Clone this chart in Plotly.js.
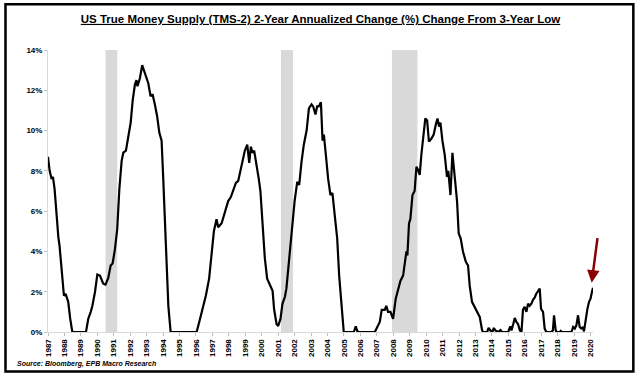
<!DOCTYPE html>
<html>
<head>
<meta charset="utf-8">
<script src="https://cdn.plot.ly/plotly-3.0.1.min.js"></script>
<style>html,body{margin:0;padding:0;background:#fff;}#chart{width:640px;height:377px;}</style>
</head>
<body>
<div id="chart"></div>
<script>
// Decimal-year positions of the series
const dates = [
1987.00,1987.10,1987.22,1987.30,1987.40,1987.53,1987.63,1987.70,1987.83,1987.97,
1988.07,1988.23,1988.35,1988.48,1988.90,1989.31,1989.45,1989.52,1989.60,1989.70,
1989.86,1990.00,1990.16,1990.36,1990.50,1990.67,1990.81,1990.93,1991.07,1991.21,
1991.34,1991.48,1991.58,1991.74,1991.88,1992.03,1992.15,1992.29,1992.38,1992.44,
1992.59,1992.73,1992.83,1992.96,1993.10,1993.24,1993.36,1993.50,1993.64,1993.77,
1993.91,1994.01,1994.10,1994.22,1994.32,1994.46,1995.20,1996.04,1996.20,1996.35,
1996.48,1996.60,1996.80,1996.94,1997.09,1997.25,1997.35,1997.56,1997.76,1997.96,
1998.12,1998.27,1998.43,1998.57,1998.67,1998.83,1998.97,1999.12,1999.24,1999.34,
1999.44,1999.54,1999.68,1999.82,1999.92,2000.09,2000.19,2000.33,2000.45,2000.55,
2000.66,2000.75,2000.90,2001.00,2001.14,2001.26,2001.41,2001.50,2001.67,2001.75,
2001.87,2002.00,2002.16,2002.28,2002.42,2002.56,2002.73,2002.87,2003.03,2003.13,
2003.27,2003.37,2003.47,2003.60,2003.70,2003.78,2003.90,2004.04,2004.18,2004.30,
2004.44,2004.59,2004.71,2004.85,2004.99,2005.60,2005.72,2005.82,2005.92,2006.88,
2007.02,2007.18,2007.30,2007.48,2007.58,2007.68,2007.83,2007.99,2008.15,2008.30,
2008.44,2008.60,2008.70,2008.80,2008.86,2008.96,2009.04,2009.17,2009.30,2009.41,
2009.51,2009.61,2009.71,2009.81,2009.95,2010.06,2010.17,2010.32,2010.46,2010.59,
2010.69,2010.79,2010.87,2010.99,2011.13,2011.27,2011.35,2011.48,2011.60,2011.74,
2011.88,2011.98,2012.10,2012.24,2012.41,2012.55,2012.65,2012.79,2012.96,2013.10,
2013.26,2013.40,2013.46,2013.71,2013.80,2013.90,2014.03,2014.12,2014.22,2014.38,
2014.52,2014.62,2014.99,2015.12,2015.19,2015.30,2015.39,2015.49,2015.59,2015.70,
2015.80,2015.89,2015.99,2016.10,2016.20,2016.30,2016.40,2016.50,2016.60,2016.70,
2016.80,2016.91,2016.99,2017.11,2017.21,2017.31,2017.61,2017.71,2017.78,2017.88,
2017.95,2018.14,2018.19,2018.25,2018.84,2018.94,2019.04,2019.14,2019.24,2019.34,
2019.44,2019.54,2019.60,2019.71,2019.81,2019.91,2020.00,2020.09,2020.15
];
// TMS-2 2-year annualized change, change from 3-year low (%)
const tms2Change = [
8.7,8.0,7.6,7.7,7.1,5.6,4.7,4.3,3.0,1.8,
1.9,1.5,0.66,0,0,0,0.66,0.8,1.0,1.3,
2.0,2.85,2.8,2.4,2.35,2.7,3.3,3.4,4.1,5.1,
7.1,8.5,8.9,9.0,9.7,10.4,11.5,12.3,12.5,12.2,
12.6,13.25,13.0,12.7,12.35,11.7,11.8,11.3,10.7,9.9,
9.5,7.6,5.6,3.3,1.3,0,0,0,0.5,1.0,
1.3,1.8,2.65,3.8,5.0,5.6,5.2,5.4,5.9,6.5,
6.7,7.0,7.4,7.5,7.9,8.5,9.0,9.3,8.4,9.2,
8.9,9.0,8.4,7.6,7.0,5.0,3.65,2.65,2.45,2.2,
2.05,1.15,0.4,0.3,0.65,1.4,1.75,2.15,3.65,4.3,
5.3,6.5,7.45,7.3,8.45,9.3,10.0,11.1,11.3,11.2,
10.8,11.2,11.2,11.4,9.5,9.8,8.8,7.6,6.8,6.9,
5.8,4.65,2.8,1.3,0,0,0.28,0.03,0,0,
0.25,0.5,1.1,1.1,1.3,1.0,1.0,0.65,1.65,2.15,
2.55,2.8,3.5,4.0,3.8,5.4,5.6,6.8,7.0,8.2,
8.05,7.8,8.8,9.6,10.6,10.5,9.45,9.6,9.8,10.3,
10.6,10.2,10.4,9.5,8.8,7.7,8.0,6.8,8.9,7.7,
6.5,4.9,4.65,4.0,3.5,3.3,2.3,1.5,1.25,1.0,
0.75,0.1,0,0,0.2,0.08,0,0.2,0.07,0,
0.1,0,0,0.28,0.08,0.4,0.7,0.5,0.4,0.08,
0,1.1,1.25,1.0,1.4,1.3,1.4,1.6,1.7,1.9,
2.05,2.15,1.15,1.0,0.17,0,0,0.08,0.83,0.08,
0,0,0.05,0,0,0.25,0.17,0.33,0.83,0.25,
0.17,0.25,0.03,0.66,1.15,1.5,1.65,2.0,2.2
];
// Recession periods (start, end) in decimal years
const recessionStart = [1990.5, 2001.17, 2007.92];
const recessionEnd = [1991.21, 2001.9, 2009.47];
// Tick labels
const yearTicks = [];
for (let y = 1987; y <= 2020; y++) yearTicks.push(y);
const yearLabels = yearTicks.map(String);
const yTicks = [0, 2, 4, 6, 8, 10, 12, 14];
const yLabels = yTicks.map(v => v + '%');

const titleText = 'US True Money Supply (TMS-2) 2-Year Annualized Change (%) Change From 3-Year Low';
const sourceText = 'Source: Bloomberg, EPB Macro Research';

const shapes = recessionStart.map((s, i) => ({
  type: 'rect', xref: 'x', yref: 'y', x0: s, x1: recessionEnd[i], y0: 0, y1: 14,
  fillcolor: '#d9d9d9', line: {width: 0}, layer: 'below'
}));
shapes.push({
  type: 'rect', xref: 'paper', yref: 'paper',
  x0: -0.078, x1: 1.074, y0: -0.14, y1: 1.162,
  line: {color: '#000', width: 2.5}, fillcolor: 'rgba(0,0,0,0)'
});

const trace = {
  x: dates, y: tms2Change, type: 'scatter', mode: 'lines',
  line: {color: '#000', width: 2.2}, hoverinfo: 'skip'
};

const layout = {
  width: 640, height: 377,
  margin: {l: 48, r: 47, t: 50, b: 45},
  paper_bgcolor: '#fff', plot_bgcolor: '#fff',
  showlegend: false,
  title: {
    text: '<u>' + titleText + '</u>',
    font: {family: 'Liberation Sans, Arial', size: 11.5, color: '#000', weight: 'bold'},
    x: 0.5, xanchor: 'center', xref: 'paper', y: 0.95, yanchor: 'middle', yref: 'container'
  },
  xaxis: {
    range: [1987, 2020.15], tickvals: yearTicks, ticktext: yearLabels, tickangle: -90,
    showgrid: false, zeroline: false, showline: true, linecolor: '#d9d9d9', linewidth: 1,
    ticks: 'outside', ticklen: 3, tickcolor: '#bfbfbf',
    tickfont: {family: 'Liberation Sans, Arial', size: 8, color: '#000', weight: 'bold'}
  },
  yaxis: {
    range: [0, 14], tickvals: yTicks, ticktext: yLabels,
    showgrid: false, zeroline: false, showline: true, linecolor: '#d9d9d9', linewidth: 1,
    ticks: 'outside', ticklen: 3, tickcolor: '#bfbfbf',
    tickfont: {family: 'Liberation Sans, Arial', size: 8, color: '#000', weight: 'bold'}
  },
  shapes: shapes,
  annotations: [
    {
      text: '<b><i>' + sourceText + '</i></b>', xref: 'paper', yref: 'paper',
      x: -0.061, y: -0.114, xanchor: 'left', yanchor: 'middle', showarrow: false,
      font: {family: 'Liberation Sans, Arial', size: 7, color: '#000'}
    },
    {
      x: 2020.07, y: 2.45, xref: 'x', yref: 'y', text: '', showarrow: true,
      ax: 6, ay: -46, arrowhead: 2, arrowsize: 1, arrowwidth: 2.5, arrowcolor: '#8b0000'
    }
  ]
};

Plotly.newPlot('chart', [trace], layout, {displayModeBar: false, staticPlot: true});
</script>
</body>
</html>
